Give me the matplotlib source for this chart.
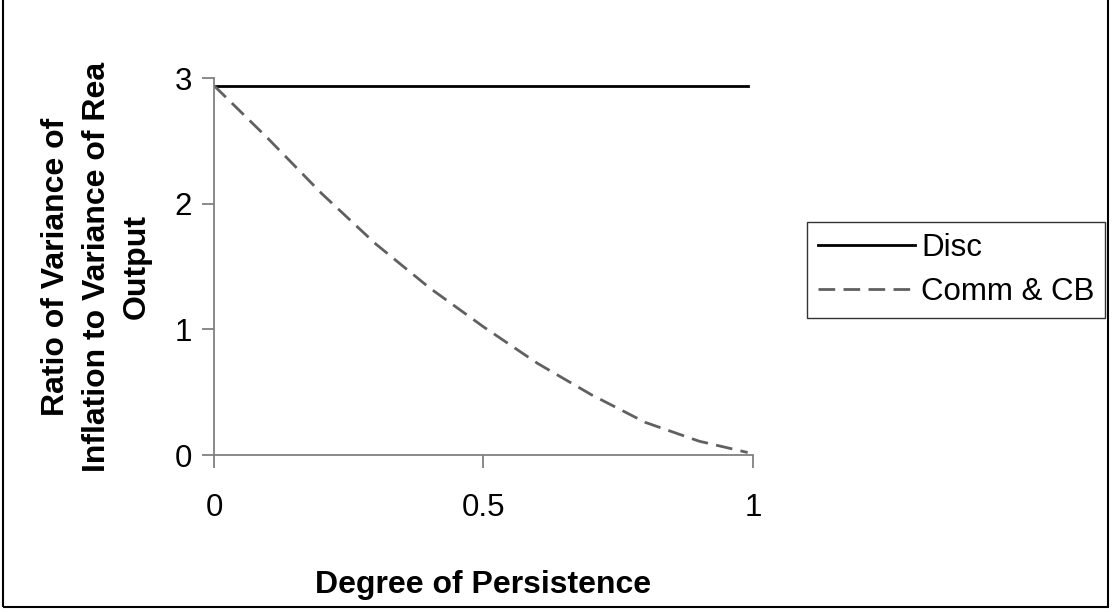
import numpy as np
import matplotlib
matplotlib.use('Agg')
import matplotlib.pyplot as plt
from matplotlib.patches import Rectangle

plt.rcParams['font.family'] = ['Liberation Sans', 'DejaVu Sans']

# data
persistence = [0.0, 0.1, 0.2, 0.3, 0.4, 0.5, 0.6, 0.7, 0.8, 0.9, 0.99]
disc = [2.94, 2.94, 2.94, 2.94, 2.94, 2.94, 2.94, 2.94, 2.94, 2.94, 2.94]
comm_cb = [2.94, 2.52, 2.08, 1.68, 1.33, 1.02, 0.73, 0.48, 0.26, 0.11, 0.02]

x_ticks = [0, 0.5, 1]
x_tick_labels = ['0', '0.5', '1']
y_ticks = [0, 1, 2, 3]

fig = plt.figure(figsize=(11.12, 6.12), dpi=100)
ax = fig.add_axes([0.1924, 0.2565, 0.4848, 0.616])

ax.plot(persistence, disc, color='black', lw=2.0, label='Disc')
ax.plot(persistence, comm_cb, color='#606060', lw=2.0, dashes=(6, 3), label='Comm & CB')

ax.set_xlim(0, 1)
ax.set_ylim(0, 3)
ax.set_xticks(x_ticks)
ax.set_xticklabels(x_tick_labels)
ax.set_yticks(y_ticks)

for side in ['top', 'right']:
    ax.spines[side].set_visible(False)
for side in ['left', 'bottom']:
    ax.spines[side].set_color('#808080')
    ax.spines[side].set_linewidth(1.3)

ax.tick_params(axis='both', direction='out', length=9, width=1.3,
               color='#808080', labelsize=22.5)
ax.tick_params(axis='y', pad=7)
ax.tick_params(axis='x', pad=18)

ax.set_xlabel('Degree of Persistence', fontsize=23, fontweight='bold', labelpad=34)
ax.set_ylabel('Ratio of Variance of\nInflation to Variance of Rea\nOutput',
              fontsize=23, fontweight='bold', labelpad=16, linespacing=1.45)

leg = ax.legend(loc='center left', bbox_to_anchor=(1.1, 0.49), fontsize=22.5,
                frameon=True, fancybox=False, handlelength=3.1, handletextpad=0.2,
                labelspacing=0.45, borderpad=0.35, borderaxespad=0)
leg.get_frame().set_edgecolor('black')
leg.get_frame().set_linewidth(1.0)

# outer chart border
fig.patches.append(Rectangle((3 / 1112, 5 / 612), 1105 / 1112, 1.2,
                             transform=fig.transFigure, fill=False,
                             edgecolor='black', lw=1.5))

fig.savefig('out.png', dpi=100)
